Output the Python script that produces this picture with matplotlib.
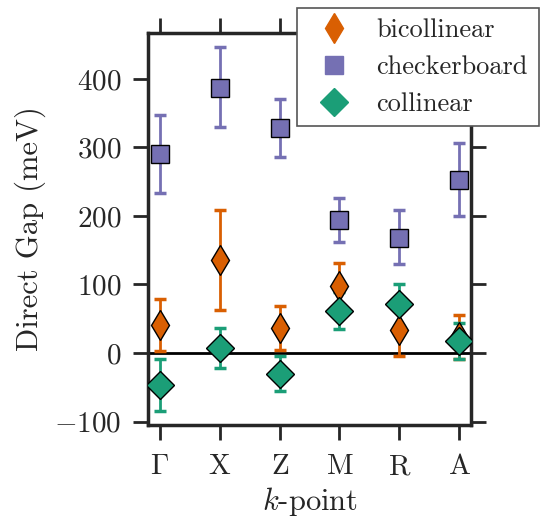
import matplotlib
matplotlib.use('Agg')
import matplotlib.pyplot as plt
from matplotlib.lines import Line2D

# datos (meV)
kpoints = [r'$\Gamma$', r'$\mathrm{X}$', r'$\mathrm{Z}$', r'$\mathrm{M}$', r'$\mathrm{R}$', r'$\mathrm{A}$']

bicollinear = [41, 136, 36, 98, 33, 23]
bicollinear_lo = [3, 63, 4, 65, -5, -9]
bicollinear_hi = [79, 209, 68, 132, 71, 55]

checkerboard = [290, 387, 328, 194, 168, 253]
checkerboard_lo = [234, 330, 286, 162, 130, 200]
checkerboard_hi = [347, 446, 371, 226, 208, 306]

collinear = [-46, 7, -30, 62, 71, 18]
collinear_lo = [-84, -22, -55, 35, 40, -9]
collinear_hi = [-9, 37, -5, 89, 101, 44]

c_bi = '#d95f02'
c_ch = '#7570b3'
c_co = '#1b9e77'
dark = '#262626'

plt.rcParams['font.family'] = 'serif'
plt.rcParams['font.serif'] = ['cmr10', 'DejaVu Serif']
plt.rcParams['mathtext.fontset'] = 'cm'
plt.rcParams['axes.formatter.use_mathtext'] = True
plt.rcParams['font.size'] = 19
plt.rcParams['text.color'] = dark
plt.rcParams['axes.labelcolor'] = dark
plt.rcParams['xtick.color'] = dark
plt.rcParams['ytick.color'] = dark

fig = plt.figure(figsize=(5.43, 5.21), dpi=100)
ax = fig.add_axes([0.2726, 0.1843, 0.5948, 0.7524])

x = list(range(len(kpoints)))

ax.axhline(0, color='black', lw=2, zorder=1)


def serie(vals, lo, hi, color, marker, ms):
    err = [[v - l for v, l in zip(vals, lo)], [h - v for v, h in zip(vals, hi)]]
    ax.errorbar(x, vals, yerr=err, fmt='none', ecolor=color, elinewidth=2,
                capsize=4.5, capthick=2.5, zorder=2)
    ax.plot(x, vals, ls='none', marker=marker, ms=ms, mfc=color,
            mec='black', mew=1, zorder=3)


serie(checkerboard, checkerboard_lo, checkerboard_hi, c_ch, 's', 13)
serie(bicollinear, bicollinear_lo, bicollinear_hi, c_bi, 'd', 15)
serie(collinear, collinear_lo, collinear_hi, c_co, 'D', 14)

ax.set_xlim(-0.2, 5.2)
ax.set_ylim(-105, 467)
ax.set_xticks(x)
ax.set_xticklabels(kpoints)
ax.set_yticks([-100, 0, 100, 200, 300, 400])
ax.set_xlabel(r'$k$-point', fontsize=22, labelpad=3)
ax.set_ylabel('Direct Gap (meV)', fontsize=22, labelpad=6)

for s in ax.spines.values():
    s.set_linewidth(2.5)
    s.set_color(dark)
ax.tick_params(direction='out', length=11, width=2, top=True, right=True,
               pad=8, labelsize=21)
ax.tick_params(axis='x', pad=10)

handles = [
    Line2D([], [], ls='none', marker='d', ms=15, color=c_bi, mec=c_bi),
    Line2D([], [], ls='none', marker='s', ms=13, color=c_ch, mec=c_ch),
    Line2D([], [], ls='none', marker='D', ms=14, color=c_co, mec=c_co),
]
leg = ax.legend(handles, ['bicollinear', 'checkerboard', 'collinear'],
                loc='upper right', bbox_to_anchor=(1.25, 1.098), fancybox=False,
                framealpha=1, edgecolor='#555555', borderpad=0.4, labelspacing=0.5,
                handletextpad=0.6)
leg.get_frame().set_linewidth(1.2)

fig.savefig('out.png', dpi=100)
